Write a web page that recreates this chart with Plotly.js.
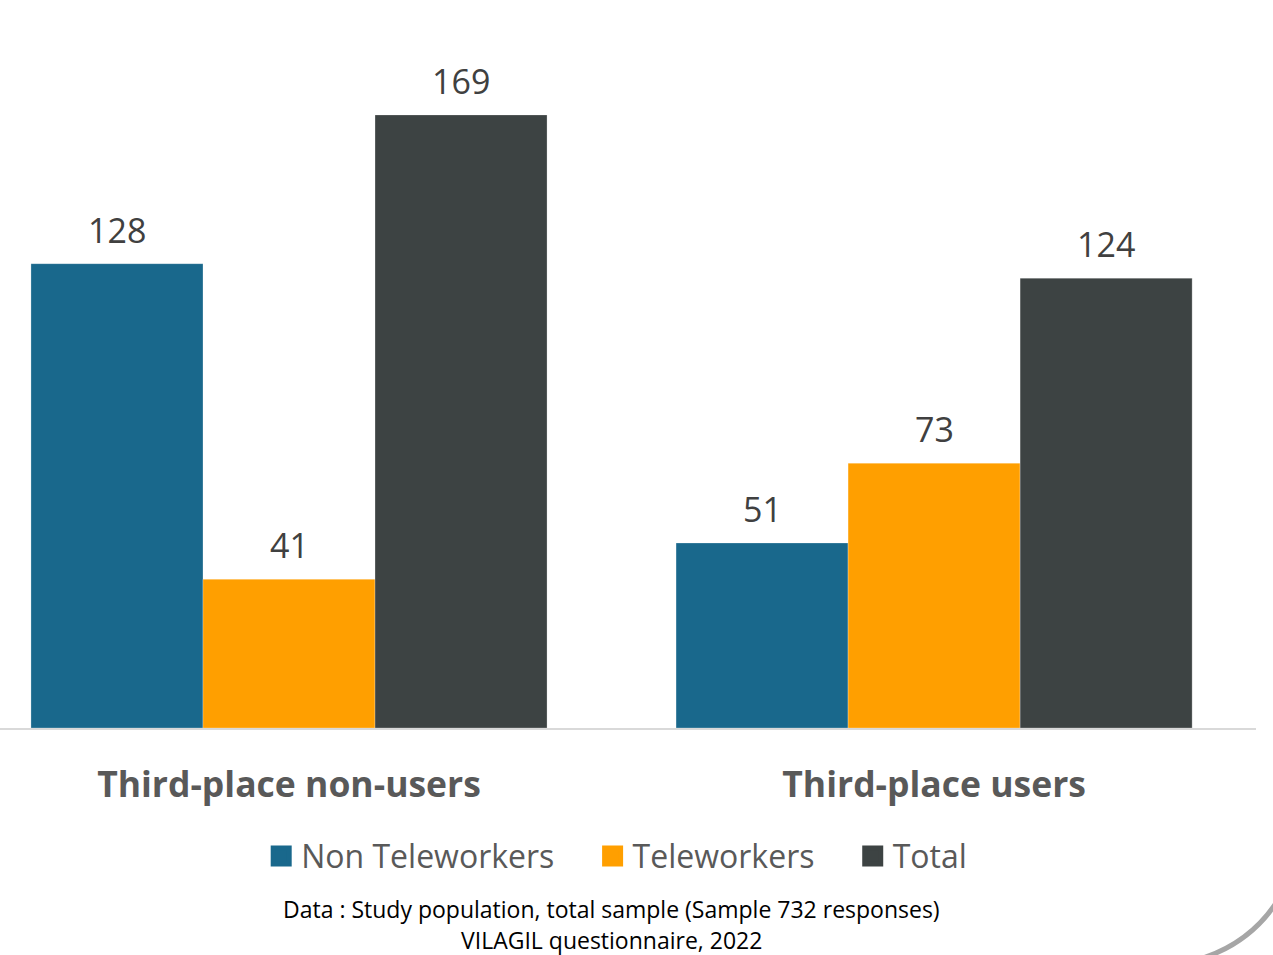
<!DOCTYPE html>
<html>
<head>
<meta charset="utf-8">
<script src="https://cdn.plot.ly/plotly-3.0.1.min.js"></script>
<style>html,body{margin:0;padding:0;background:#fff;}#chart{width:1273px;height:955px;}</style>
</head>
<body>
<div id="chart"></div>
<script>
const categories = ["Third-place non-users", "Third-place users"];
const seriesNames = ["Non Teleworkers", "Teleworkers", "Total"];
const nonTeleworkers = [128, 51];
const teleworkers = [41, 73];
const total = [169, 124];
const seriesValues = [nonTeleworkers, teleworkers, total];
const seriesColors = ["#19688C", "#FF9F00", "#3D4343"];
const footnotes = ["Data : Study population, total sample (Sample 732 responses)", "VILAGIL questionnaire, 2022"];

const bargap = 0.2;
const traces = [];
seriesValues.forEach((vals, i) => {
  traces.push({
    type: 'bar', name: seriesNames[i], x: [0, 1], y: vals,
    marker: {color: seriesColors[i], line: {color: 'rgba(255,255,255,0.25)', width: 1}},
    showlegend: false, hoverinfo: 'none'
  });
});
// legend-only square markers
const pad = '\u00a0\u00a0\u00a0\u00a0';
seriesNames.forEach((n, i) => {
  traces.push({
    type: 'scatter', mode: 'markers', name: i < seriesNames.length - 1 ? n + pad : n, x: [null], y: [null],
    marker: {symbol: 'square', size: 16, color: seriesColors[i], line: {color: seriesColors[i], width: 5}},
    showlegend: true, hoverinfo: 'none'
  });
});

const annotations = [];
const slot = (1 - bargap) / seriesValues.length;
seriesValues.forEach((vals, i) => {
  vals.forEach((v, c) => {
    annotations.push({
      x: c + (i - (seriesValues.length - 1) / 2) * slot, y: v, xref: 'x', yref: 'y',
      text: String(v), showarrow: false, yanchor: 'middle', yshift: 34,
      font: {family: 'Open Sans', size: 34, color: '#404040'}
    });
  });
});
footnotes.forEach((t, k) => {
  annotations.push({
    x: 0.487, y: k === 0 ? -0.267 : -0.3127, xref: 'paper', yref: 'paper',
    text: t, showarrow: false, xanchor: 'center', yanchor: 'middle', borderpad: 0,
    font: {family: 'Open Sans', size: 23, color: '#000000'}
  });
});

const layout = {
  width: 1273, height: 955,
  margin: {l: 0, r: 17, t: 50, b: 227},
  paper_bgcolor: '#ffffff', plot_bgcolor: '#ffffff',
  barmode: 'group', bargap: bargap, bargroupgap: 0,
  xaxis: {
    type: 'linear', range: [-0.448, 1.499], tickvals: [0, 1], ticktext: categories,
    showgrid: false, zeroline: false, showline: true, linecolor: '#d9d9d9', linewidth: 2,
    ticks: 'outside', ticklen: 24, tickcolor: 'rgba(0,0,0,0)',
    tickfont: {family: 'Open Sans', size: 35.5, color: '#595959', weight: 'bold'}
  },
  yaxis: {range: [0, 186.9], visible: false, showgrid: false, zeroline: false},
  showlegend: true,
  legend: {
    orientation: 'h', x: 0.491, xanchor: 'center', y: -0.189, yanchor: 'middle',
    font: {family: 'Open Sans', size: 32, color: '#595959'}, itemwidth: 30,
    bgcolor: 'rgba(0,0,0,0)'
  },
  annotations: annotations,
  shapes: [{
    type: 'path', xref: 'paper', yref: 'paper',
    path: 'M 0.9530 -0.3420 Q 0.99363 -0.32006 1.0160 -0.2580',
    line: {color: '#a6a6a6', width: 5}
  }]
};
Plotly.newPlot('chart', traces, layout, {displayModeBar: false, staticPlot: true});
</script>
</body>
</html>
